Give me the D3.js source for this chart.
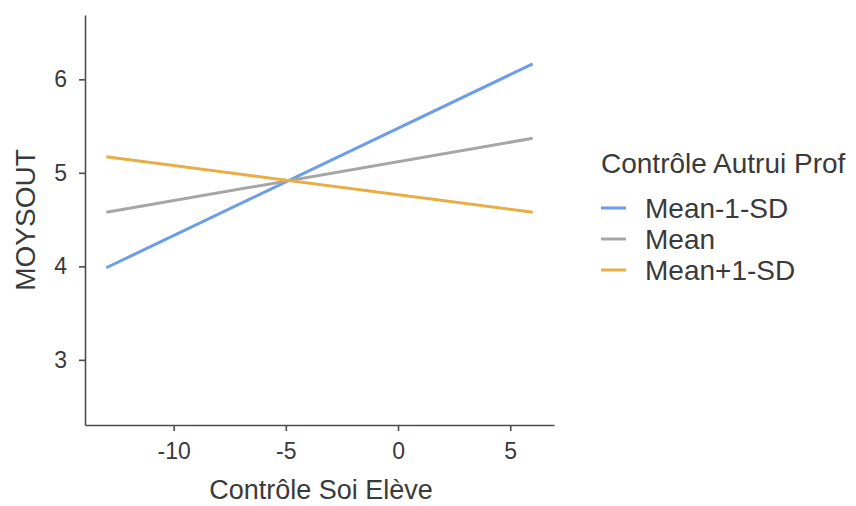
<!DOCTYPE html>
<html>
<head>
<meta charset="utf-8">
<script src="https://cdn.jsdelivr.net/npm/d3@7"></script>
<style>
  body { margin: 0; background: #fff; }
  text { font-family: "Liberation Sans", Arial, sans-serif; }
</style>
</head>
<body>
<div id="chart"></div>
<script>
// Simple slopes: predicted MOYSOUT at low/high Contrôle Soi Elève
const xValues = [-13, 6];
const seriesNames = ['Mean-1-SD', 'Mean', 'Mean+1-SD'];
const blueValues = [3.985, 6.165];
const grayValues = [4.578, 5.369];
const orangeValues = [5.172, 4.578];
const seriesColors = ['#6b9de8', '#a6a6a6', '#e8ae45'];
const xTicks = [-10, -5, 0, 5];
const yTicks = [3, 4, 5, 6];

const series = [blueValues, grayValues, orangeValues].map((vals, i) => ({
    name: seriesNames[i],
    color: seriesColors[i],
    points: xValues.map((x, j) => ({ x: x, y: vals[j] }))
}));

const width = 856, height = 506;
const plot = { left: 85, right: 554, top: 15, bottom: 425 };

const svg = d3.select('#chart').append('svg')
    .attr('width', width)
    .attr('height', height);

const x = d3.scaleLinear().domain([-13.95, 6.95]).range([plot.left, plot.right]);
const y = d3.scaleLinear().domain([2.303, 6.688]).range([plot.bottom, plot.top]);

const axisColor = '#4d4d4d';
const textColor = '#3a3a3a';
const plainNum = d => String(d);   // keep ASCII hyphen like the original

// x axis
const xAxis = svg.append('g')
    .attr('transform', `translate(0,${plot.bottom})`)
    .call(d3.axisBottom(x).tickValues(xTicks).tickFormat(plainNum)
        .tickSize(6).tickPadding(12).tickSizeOuter(0));
// y axis
const yAxis = svg.append('g')
    .attr('transform', `translate(${plot.left},0)`)
    .call(d3.axisLeft(y).tickValues(yTicks).tickFormat(plainNum)
        .tickSize(6).tickPadding(12).tickSizeOuter(0));

[xAxis, yAxis].forEach(g => {
    g.select('.domain').attr('stroke', axisColor).attr('stroke-width', 1.6);
    g.selectAll('.tick line').attr('stroke', axisColor).attr('stroke-width', 1.6);
    g.selectAll('.tick text')
        .attr('fill', textColor)
        .style('font-size', '23px');
});

// lines
const line = d3.line().x(d => x(d.x)).y(d => y(d.y));
svg.append('g').selectAll('path')
    .data(series)
    .join('path')
    .attr('d', d => line(d.points))
    .attr('fill', 'none')
    .attr('stroke', d => d.color)
    .attr('stroke-width', 3);

// axis titles
svg.append('text')
    .attr('x', 321)
    .attr('y', 499)
    .attr('text-anchor', 'middle')
    .attr('fill', textColor)
    .style('font-size', '27px')
    .text('Contrôle Soi Elève');

svg.append('text')
    .attr('transform', `translate(35,220) rotate(-90)`)
    .attr('text-anchor', 'middle')
    .attr('fill', textColor)
    .style('font-size', '28px')
    .text('MOYSOUT');

// legend
const legend = svg.append('g').attr('transform', 'translate(601,0)');
legend.append('text')
    .attr('x', 0)
    .attr('y', 173)
    .attr('fill', textColor)
    .style('font-size', '28px')
    .text('Contrôle Autrui Prof');

const items = legend.selectAll('g.item')
    .data(series)
    .join('g')
    .attr('class', 'item')
    .attr('transform', (d, i) => `translate(0,${208 + i * 31})`);

items.append('line')
    .attr('x1', 0).attr('x2', 25)
    .attr('stroke', d => d.color)
    .attr('stroke-width', 3);

items.append('text')
    .attr('x', 44)
    .attr('y', 10)
    .attr('fill', textColor)
    .style('font-size', '28px')
    .text(d => d.name);
</script>
</body>
</html>
